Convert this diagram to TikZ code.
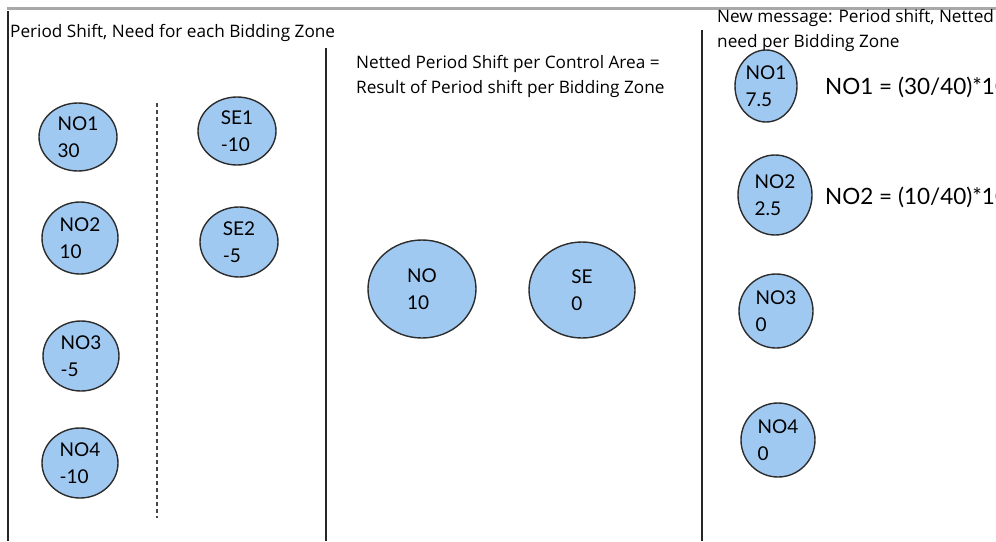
\documentclass[tikz,border=0pt]{standalone}
\usepackage{fontspec}
\setmainfont{Open Sans}
\newfontfamily\handfont{Lato}
\usetikzlibrary{shapes.geometric}

\definecolor{zonefill}{RGB}{160,201,241}
\definecolor{zoneedge}{RGB}{45,45,45}
\definecolor{rulegray}{RGB}{168,168,168}
\definecolor{dashgray}{RGB}{70,70,70}

\tikzset{
  zone/.style={ellipse, draw=zoneedge, fill=zonefill, line width=1.4pt,
    inner sep=0pt, align=left, font=\handfont\fontsize{19}{27}\selectfont},
  caption/.style={anchor=base west, inner sep=0pt, align=left,
    font=\fontsize{17.2}{24.5}\selectfont},
  formula/.style={anchor=west, inner sep=0pt, font=\handfont\fontsize{22.5}{26}\selectfont},
  divider/.style={line width=1.4pt, draw=black!85},
}

\begin{document}
\begin{tikzpicture}[x=1pt,y=-1pt]
\useasboundingbox (0,0) rectangle (996,541);

% frame and column dividers
\draw[rulegray, line width=3pt] (7,8.5) -- (996,8.5);
\draw[divider] (8,11) -- (8,541);
\draw[divider] (326,48) -- (326,541);
\draw[divider] (702,30) -- (702,541);
\draw[dashgray, line width=2pt, dash pattern=on 4pt off 3pt] (157,103) -- (157,518);

% column headings (anchored at the baseline of their last line)
\node[caption] (headA) at (10,37) {Period Shift, Need for each Bidding Zone};
\node[caption] (headB) at (356,93) {Netted Period Shift per Control Area =\\Result of Period shift per Bidding Zone};
\node[caption] (headC) at (717,47) {New message: Period shift, Netted\\need per Bidding Zone};

% bidding zones
\node[zone, minimum width=78pt, minimum height=68pt] (no1) at (78,137) {NO1\\30};
\node[zone, minimum width=76pt, minimum height=72pt] (no2) at (80,238) {NO2\\10};
\node[zone, minimum width=76pt, minimum height=70pt] (no3) at (81,356) {NO3\\-5};
\node[zone, minimum width=76pt, minimum height=70pt] (no4) at (80,463) {NO4\\-10};
\node[zone, minimum width=78pt, minimum height=68pt] (se1) at (237,131) {SE1\\-10};
\node[zone, minimum width=78pt, minimum height=70pt] (se2) at (239,242) {SE2\\-5};

% control areas
\node[zone, minimum width=108pt, minimum height=98pt] (no) at (422,289) {NO\\10};
\node[zone, minimum width=106pt, minimum height=96pt] (se) at (582,290) {SE\\0};

% netted need per bidding zone
\node[zone, minimum width=62pt, minimum height=72pt] (nno1) at (766,86) {NO1\\7.5};
\node[zone, minimum width=74pt, minimum height=80pt] (nno2) at (775,195) {NO2\\2.5};
\node[zone, minimum width=74pt, minimum height=74pt] (nno3) at (776,311) {NO3\\0};
\node[zone, minimum width=74pt, minimum height=74pt] (nno4) at (778,440) {NO4\\0};

\node[formula] (f1) at (825,87) {NO1 = (30/40)*10};
\node[formula] (f2) at (825,197) {NO2 = (10/40)*10};
\end{tikzpicture}
\end{document}
